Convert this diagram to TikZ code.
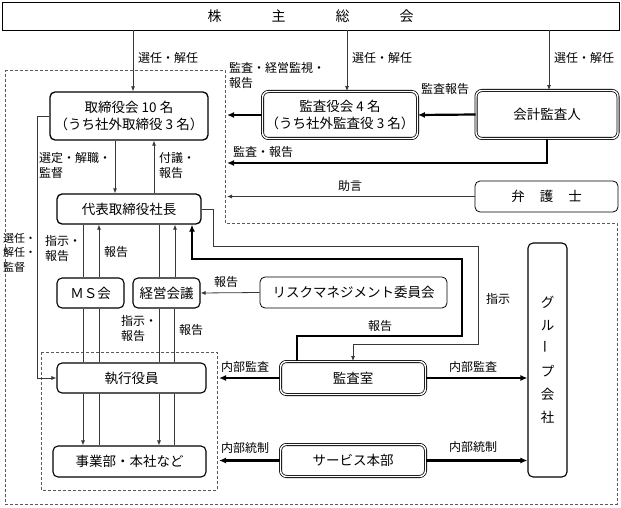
\documentclass[tikz,border=0pt]{standalone}
\usepackage{fontspec}
\setmainfont{Noto Sans CJK JP}
\usetikzlibrary{arrows.meta,calc}

\begin{document}
\begin{tikzpicture}[x=1pt,y=-1pt,>={Latex[length=5pt,width=4pt]},
	base box/.style={draw,rounded corners=5pt,line width=1.1pt,inner sep=0pt,align=center,font=\fontsize{13.5}{17}\selectfont},
	thin box/.style={base box,line width=0.8pt},
	double box/.style={base box,double,line width=0.8pt,double distance=1.4pt,rounded corners=6pt},
	thin line/.style={draw=black!78,line width=0.8pt},
	bold line/.style={line width=2.2pt,>={Latex[length=7pt,width=6pt]}},
	label text/.style={inner sep=0pt,align=left,font=\fontsize{12}{15}\selectfont},
	border/.style={draw=black!65,line width=0.8pt,dash pattern=on 3pt off 2pt}]

	\useasboundingbox (0,0) rectangle (621,508);

	% dashed areas
	\draw[border] (5,70) -- (225,70) -- (225,223) -- (617,223) -- (617,504) -- (5,504) -- cycle;
	\draw[border] (41,352) rectangle (217,490);
	\coordinate (rim) at (227,163);
	\coordinate (inrim) at (219,0);

	% boxes
	\node[thin box,sharp corners,minimum width=617pt,minimum height=28pt,font=\fontsize{14}{17}\selectfont] (soukai) at (310.5,16) {株\hspace{50pt}主\hspace{50pt}総\hspace{50pt}会};
	\node[base box,line width=1.3pt,minimum width=158pt,minimum height=48pt] (torishimari) at (129,116) {取締役会 10 名\\（うち社外取締役 3 名）};
	\node[double box,minimum width=155pt,minimum height=47pt] (kansayaku) at (340,115) {監査役会 4 名\\（うち社外監査役 3 名）};
	\node[double box,minimum width=142pt,minimum height=48pt] (kaikei) at (547,114.5) {会計監査人};
	\node[thin box,minimum width=143pt,minimum height=31pt] (bengoshi) at (546.5,196.5) {弁\hspace{15pt}護\hspace{15pt}士};
	\node[base box,line width=1.3pt,minimum width=144pt,minimum height=30pt] (daihyo) at (129,209) {代表取締役社長};
	\node[base box,minimum width=67pt,minimum height=30pt] (ms) at (90.5,293) {ＭＳ会};
	\node[base box,minimum width=67pt,minimum height=30pt] (keiei) at (166.5,293) {経営会議};
	\node[thin box,minimum width=187pt,minimum height=31pt] (risk) at (353.5,292.5) {リスクマネジメント委員会};
	\node[base box,minimum width=149pt,minimum height=30pt] (shikko) at (131.5,378) {執行役員};
	\node[base box,minimum width=153pt,minimum height=31pt] (jigyo) at (129.5,461.5) {事業部・本社など};
	\node[double box,minimum width=145pt,minimum height=33pt] (kansashitsu) at (353,378) {監査室};
	\node[double box,minimum width=145pt,minimum height=32pt] (service) at (353,460.5) {サービス本部};
	\node[base box,minimum width=39pt,minimum height=234pt,font=\fontsize{13.5}{23}\selectfont] (group) at (547.5,360) {グ\\ル\\\rotatebox{90}{ー}\\プ\\会\\社};

	% shareholders
	\draw[thin line,->] ([xshift=4pt]torishimari.north |- soukai.south) -- ([xshift=4pt]torishimari.north);
	\draw[thin line,->] ([xshift=7pt]kansayaku.north |- soukai.south) -- ([xshift=7pt]kansayaku.north);
	\draw[thin line,->] ([xshift=2pt]kaikei.north |- soukai.south) -- ([xshift=2pt]kaikei.north);
	\node[label text,anchor=west] (sen1) at (138,58) {選任・解任};
	\node[label text,anchor=west] (sen2) at (352,58) {選任・解任};
	\node[label text,anchor=west] (sen3) at (554,58) {選任・解任};

	% audit side
	\draw[bold line,->] (kansayaku.west) -- (kansayaku.west -| rim);
	\draw[bold line,->] (kaikei.west) -- (kansayaku.east);
	\draw[bold line,->] (kaikei.south) |- (rim);
	\draw[thin line,->] (bengoshi.west) -- (bengoshi.west -| rim);
	\node[label text,anchor=north west] (kanshi) at (229,62) {監査・経営監視・\\報告};
	\node[label text,anchor=west] (kanhou) at (421,89) {監査報告};
	\node[label text,anchor=west] (kanhou2) at (233,152) {監査・報告};
	\node[label text] (jogen) at (350,186) {助言};

	% board and president
	\draw[thin line,->] ([xshift=-14pt]torishimari.south) -- ([xshift=-14pt]daihyo.north);
	\draw[thin line,->] ([xshift=25pt]daihyo.north) -- ([xshift=25pt]torishimari.south);
	\draw[thin line,->] (torishimari.west) -- ++(-12,0) |- (shikko.west);
	\node[label text,anchor=north west] (sentei) at (39,152) {選定・解職・\\監督};
	\node[label text,anchor=north west] (fugi) at (159,152) {付議・\\報告};
	\node[label text,anchor=north west,font=\fontsize{11}{14.5}\selectfont] (sennin) at (3,233) {選任・\\解任・\\監督};

	% meetings
	\draw[thin line] ([xshift=-7.5pt]ms.north |- daihyo.south) -- ([xshift=-7.5pt]ms.north);
	\draw[thin line,->] ([xshift=8.5pt]ms.north) -- ([xshift=8.5pt]ms.north |- daihyo.south);
	\draw[thin line] ([xshift=-7.5pt]keiei.north |- daihyo.south) -- ([xshift=-7.5pt]keiei.north);
	\draw[thin line,->] ([xshift=8.5pt]keiei.north) -- ([xshift=8.5pt]keiei.north |- daihyo.south);
	\draw[thin line] ([xshift=-7.5pt]ms.south) -- ([xshift=-7.5pt]ms.south |- shikko.north);
	\draw[thin line] ([xshift=8.5pt]ms.south) -- ([xshift=8.5pt]ms.south |- shikko.north);
	\draw[thin line] ([xshift=-7.5pt]keiei.south) -- ([xshift=-7.5pt]keiei.south |- shikko.north);
	\draw[thin line] ([xshift=8pt]keiei.south) -- ([xshift=8pt]keiei.south |- shikko.north);
	\draw[thin line,->] ([xshift=-7.5pt]ms.south |- shikko.south) -- ([xshift=-7.5pt]ms.south |- jigyo.north);
	\draw[thin line] ([xshift=8.5pt]ms.south |- shikko.south) -- ([xshift=8.5pt]ms.south |- jigyo.north);
	\draw[thin line,->] ([xshift=-7.5pt]keiei.south |- shikko.south) -- ([xshift=-7.5pt]keiei.south |- jigyo.north);
	\draw[thin line] ([xshift=8pt]keiei.south |- shikko.south) -- ([xshift=8pt]keiei.south |- jigyo.north);
	\draw[thin line,->] (risk.west) -- (keiei.east);
	\node[label text,anchor=north west] (shiji1) at (45,235) {指示・\\報告};
	\node[label text,anchor=west] (hou1) at (104,252) {報告};
	\node[label text,anchor=north west] (shiji2) at (121,315) {指示・\\報告};
	\node[label text,anchor=west] (hou2) at (179,330) {報告};
	\node[label text,anchor=west] (hou3) at (214,282) {報告};

	% internal audit
	\draw[thin line,->] (daihyo.east) -- ++(12,0) -- ++(0,37) -- ++(265,0) -- ++(0,98) -| (kansashitsu.north);
	\draw[bold line,->] ([xshift=-56pt]kansashitsu.north) -- ++(0,-25) -- ++(165,0) -- ++(0,-77) -| ([xshift=63pt]daihyo.south);
	\node[label text,anchor=west] (shiji3) at (486,299) {指示};
	\node[label text] (hou4) at (380,326) {報告};

	\draw[bold line,->] (kansashitsu.west) -- (kansashitsu.west -| inrim);
	\draw[bold line,->] (kansashitsu.east) -- (kansashitsu.east -| group.west);
	\draw[bold line,->] (service.west) -- (service.west -| inrim);
	\draw[bold line,->] (service.east) -- (service.east -| group.west);
	\node[label text,anchor=west] (nai1) at (221,367) {内部監査};
	\node[label text] (nai2) at (473,367) {内部監査};
	\node[label text,anchor=west] (nai3) at (221,448) {内部統制};
	\node[label text] (nai4) at (473,447) {内部統制};
\end{tikzpicture}
\end{document}
